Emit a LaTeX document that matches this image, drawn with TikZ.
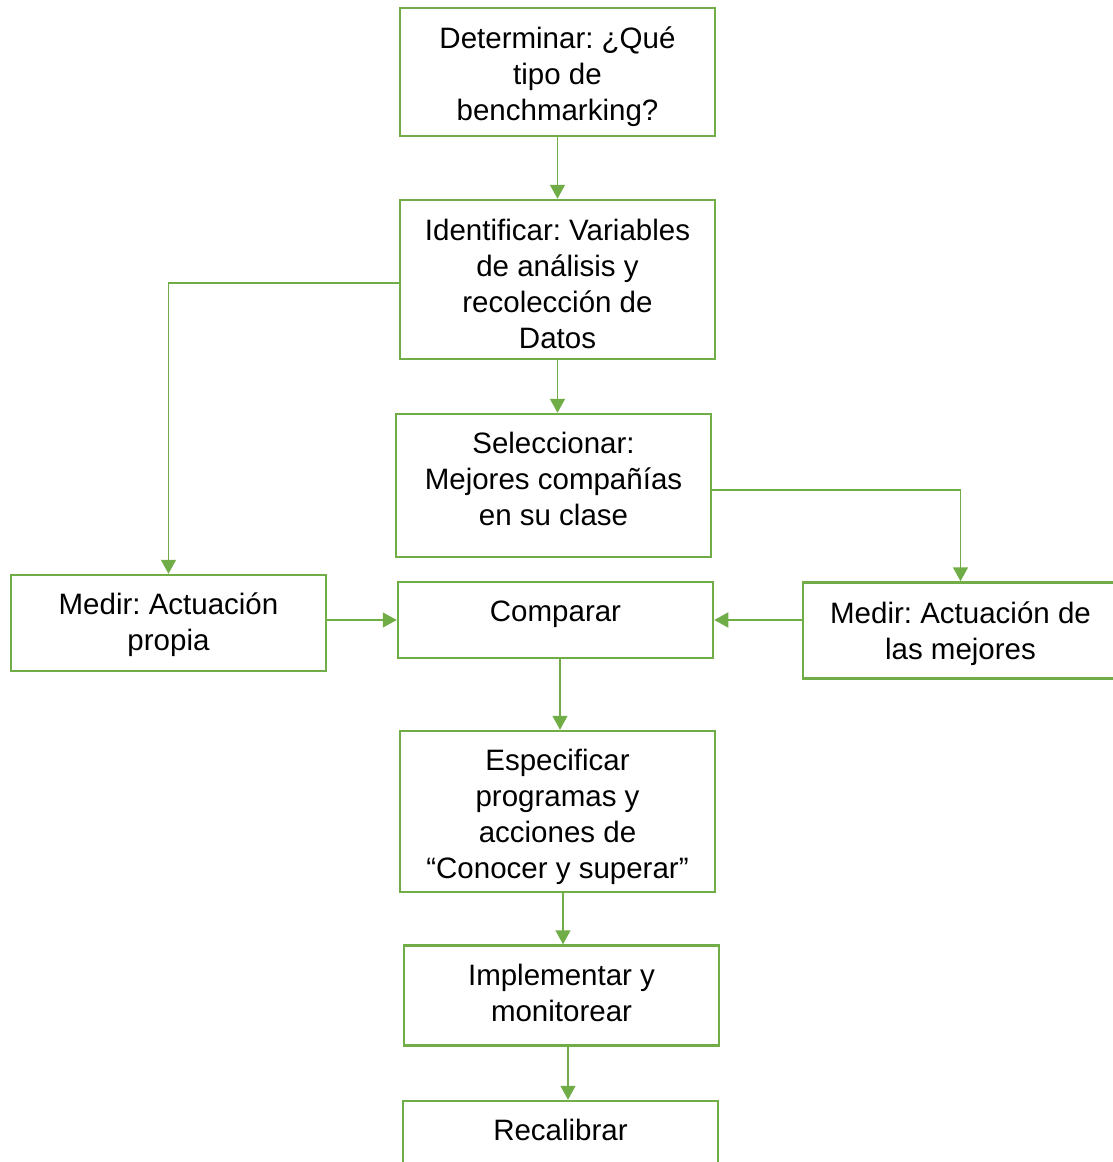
\documentclass[tikz,border=0pt]{standalone}
\usepackage{fontspec}
\setmainfont{Liberation Sans}
\usepackage{tikz}
\usetikzlibrary{arrows.meta}
\definecolor{verde}{HTML}{70AD47}
\frenchspacing
% struts: first line height and last line depth
\newcommand{\arriba}{\rule{0pt}{32pt}}
\newcommand{\abajo}[1]{\rule[-#1]{0pt}{0pt}}

\begin{document}
\begin{tikzpicture}[x=1pt, y=-1pt,
	every node/.style={rectangle,draw=verde,line width=2.5pt,align=center,minimum width=315pt,
		inner ysep=0pt,font=\fontsize{29.5}{36}\selectfont},
	flecha/.style={draw=verde,line width=1.5pt,-{Triangle[width=15pt,length=14pt]}}]
			\useasboundingbox (0,0) rectangle (1113,1162);
			\clip (0,0) rectangle (1113,1162);
			\node[minimum height=128pt] (det) at (557.5,72) {\arriba Determinar: ¿Qué\\ tipo de\\ benchmarking?\abajo{8pt}};
			\node[minimum height=159pt] (ident) at (557.5,279.5) {\arriba Identificar: Variables\\ de análisis y\\ recolección de\\ Datos\abajo{3pt}};
			\node[minimum height=143pt] (selec) at (553.5,485.5) {\arriba Seleccionar:\\ Mejores compañías\\ en su clase\abajo{25pt}};
			\node[minimum height=96pt] (medp) at (168.5,623) {\arriba Medir: Actuación\\ propia\abajo{14pt}};
			\node[minimum height=76pt] (comp) at (555.5,620) {\arriba Comparar\abajo{30pt}};
			\node[minimum height=96pt] (medm) at (960.5,630.5) {\arriba Medir: Actuación de\\ las mejores\abajo{11pt}};
			\node[minimum height=161pt] (espec) at (557.5,811.5) {\arriba Especificar\\ programas y\\ acciones de\\ “Conocer y superar”\abajo{7pt}};
			\node[minimum height=100pt] (impl) at (561.5,995.5) {\arriba Implementar y\\ monitorear\abajo{17pt}};
			\node[minimum height=76pt] (recal) at (560.5,1139) {\arriba Recalibrar\abajo{30pt}};
			
			\draw[flecha] (det) -- (ident);
			\draw[flecha] (ident.south) -- (ident.south |- selec.north);
			\draw[flecha] ([yshift=-3.5pt]ident.west) -| (medp.north);
			\draw[flecha] ([yshift=-4.5pt]selec.east) -| (medm.north);
			\draw[flecha] (medp.east |- comp) -- (comp.west);
			\draw[flecha] (medm.west |- comp) -- (comp.east);
			\draw[flecha] ([xshift=4.5pt]comp.south) -- ([xshift=2.5pt]espec.north);
			\draw[flecha] ([xshift=5.5pt]espec.south) -- ([xshift=1.5pt]impl.north);
			\draw[flecha] ([xshift=6.5pt]impl.south) -- ([xshift=7.5pt]recal.north);
		\end{tikzpicture}
\end{document}
